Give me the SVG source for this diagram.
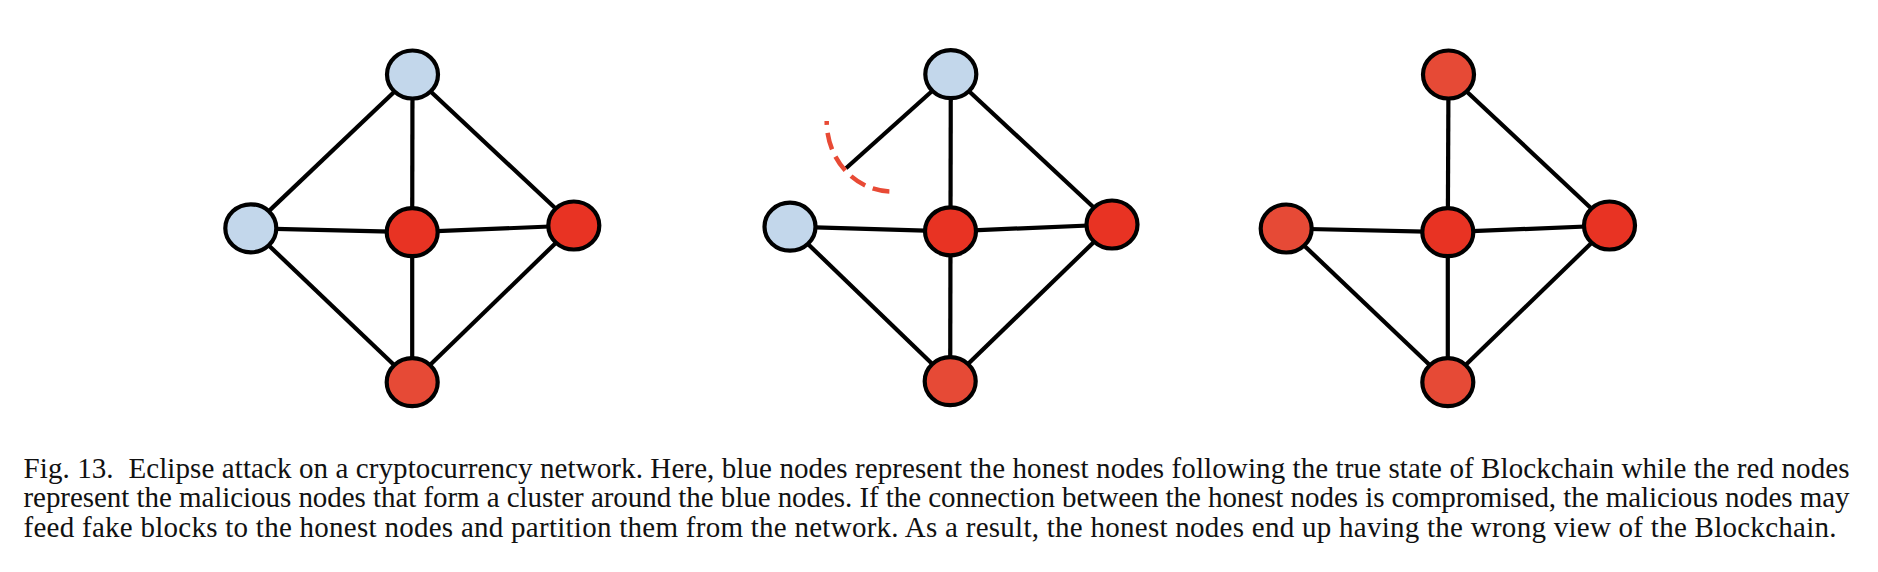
<svg xmlns="http://www.w3.org/2000/svg" width="1878" height="572" viewBox="0 0 1878 572">
<style>
.edge{stroke:#000;stroke-width:4.2;fill:none}
.node{stroke:#000;stroke-width:4.2}
.blue{fill:#C3D7EB}
.red{fill:#E83323}
.red2{fill:#E64A36}
.cut{stroke:#E84A35;stroke-width:4.5;fill:none;stroke-dasharray:17 8;stroke-dashoffset:13}
.cap{font-family:"Liberation Serif","Times New Roman",serif;font-size:29px;fill:#111}
</style>
<rect width="1878" height="572" fill="#fff"/>
<g id="connectors">
<!-- graph 1 -->
<line class="edge" x1="412.5" y1="74.5" x2="250.8" y2="228.3"/>
<line class="edge" x1="412.5" y1="74.5" x2="412.2" y2="232.2"/>
<line class="edge" x1="412.5" y1="74.5" x2="573.8" y2="225.5"/>
<line class="edge" x1="250.8" y1="228.3" x2="412.2" y2="232.2"/>
<line class="edge" x1="412.2" y1="232.2" x2="573.8" y2="225.5"/>
<line class="edge" x1="250.8" y1="228.3" x2="412.2" y2="382.2"/>
<line class="edge" x1="412.2" y1="232.2" x2="412.2" y2="382.2"/>
<line class="edge" x1="573.8" y1="225.5" x2="412.2" y2="382.2"/>
<!-- graph 2 -->
<line class="edge" x1="950.8" y1="74.2" x2="846" y2="168.3"/>
<line class="edge" x1="950.8" y1="74.2" x2="950.5" y2="231.3"/>
<line class="edge" x1="950.8" y1="74.2" x2="1112" y2="224.5"/>
<line class="edge" x1="790" y1="226.7" x2="950.5" y2="231.3"/>
<line class="edge" x1="950.5" y1="231.3" x2="1112" y2="224.5"/>
<line class="edge" x1="790" y1="226.7" x2="950.2" y2="381.2"/>
<line class="edge" x1="950.5" y1="231.3" x2="950.2" y2="381.2"/>
<line class="edge" x1="1112" y1="224.5" x2="950.2" y2="381.2"/>
<path class="cut" d="M826.7 121 A65 70 0 0 0 891.7 191.5"/>
<!-- graph 3 -->
<line class="edge" x1="1448.5" y1="74.5" x2="1447.8" y2="232.2"/>
<line class="edge" x1="1448.5" y1="74.5" x2="1609.5" y2="225.5"/>
<line class="edge" x1="1286.2" y1="228.5" x2="1447.8" y2="232.2"/>
<line class="edge" x1="1447.8" y1="232.2" x2="1609.5" y2="225.5"/>
<line class="edge" x1="1286.2" y1="228.5" x2="1447.8" y2="382.2"/>
<line class="edge" x1="1447.8" y1="232.2" x2="1447.8" y2="382.2"/>
<line class="edge" x1="1609.5" y1="225.5" x2="1447.8" y2="382.2"/>
</g>
<g id="g1-top"><ellipse class="node blue" cx="412.5" cy="74.5" rx="25.5" ry="24"/></g>
<g id="g1-left"><ellipse class="node blue" cx="250.8" cy="228.3" rx="25.5" ry="24"/></g>
<g id="g1-center"><ellipse class="node red" cx="412.2" cy="232.2" rx="25.5" ry="24"/></g>
<g id="g1-right"><ellipse class="node red" cx="573.8" cy="225.5" rx="25.5" ry="24"/></g>
<g id="g1-bottom"><ellipse class="node red2" cx="412.2" cy="382.2" rx="25.5" ry="24"/></g>
<g id="g2-top"><ellipse class="node blue" cx="950.8" cy="74.2" rx="25.5" ry="24"/></g>
<g id="g2-left"><ellipse class="node blue" cx="790" cy="226.7" rx="25.5" ry="24"/></g>
<g id="g2-center"><ellipse class="node red" cx="950.5" cy="231.3" rx="25.5" ry="24"/></g>
<g id="g2-right"><ellipse class="node red" cx="1112" cy="224.5" rx="25.5" ry="24"/></g>
<g id="g2-bottom"><ellipse class="node red2" cx="950.2" cy="381.2" rx="25.5" ry="24"/></g>
<g id="g3-top"><ellipse class="node red2" cx="1448.5" cy="74.5" rx="25.5" ry="24"/></g>
<g id="g3-left"><ellipse class="node red2" cx="1286.2" cy="228.5" rx="25.5" ry="24"/></g>
<g id="g3-center"><ellipse class="node red" cx="1447.8" cy="232.2" rx="25.5" ry="24"/></g>
<g id="g3-right"><ellipse class="node red" cx="1609.5" cy="225.5" rx="25.5" ry="24"/></g>
<g id="g3-bottom"><ellipse class="node red2" cx="1447.8" cy="382.2" rx="25.5" ry="24"/></g>
<g id="caption" class="cap">
<text x="23.5" y="477.7" textLength="1826" lengthAdjust="spacing" xml:space="preserve">Fig. 13.  Eclipse attack on a cryptocurrency network. Here, blue nodes represent the honest nodes following the true state of Blockchain while the red nodes</text>
<text x="23.5" y="507.4" textLength="1826" lengthAdjust="spacing">represent the malicious nodes that form a cluster around the blue nodes. If the connection between the honest nodes is compromised, the malicious nodes may</text>
<text x="23.5" y="537.2" textLength="1813" lengthAdjust="spacing">feed fake blocks to the honest nodes and partition them from the network. As a result, the honest nodes end up having the wrong view of the Blockchain.</text>
</g>
</svg>
